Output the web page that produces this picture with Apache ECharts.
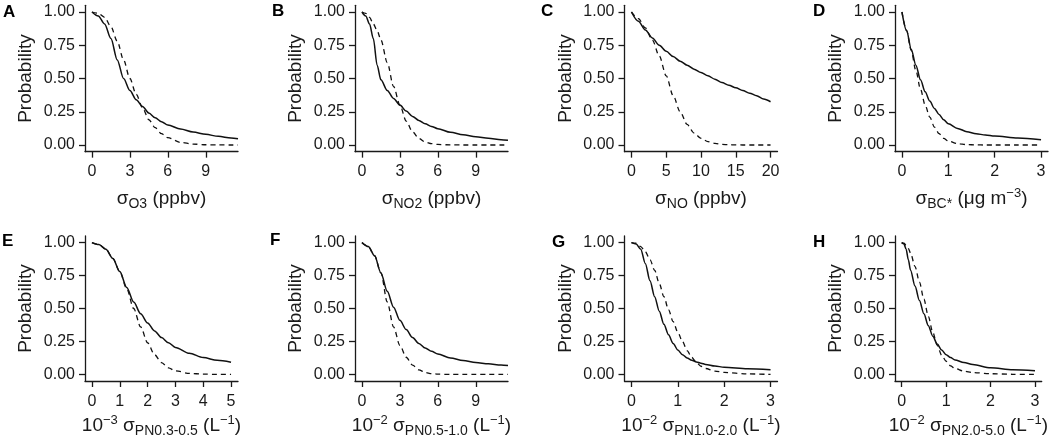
<!DOCTYPE html>
<html><head><meta charset="utf-8">
<script src="https://cdn.jsdelivr.net/npm/echarts@6/dist/echarts.min.js"></script>
<style>html,body{margin:0;padding:0;background:#fff}#c{width:1050px;height:439px}</style>
</head><body><div id="c"></div>
<script>
// ---------- data ----------
const yTicks = [0, 0.25, 0.5, 0.75, 1];

const A_x     = [0,0.5,1,1.5,2,2.5,3,3.5,4,4.5,5,5.5,6,7,8,9,10,11,11.55];
const A_solid = [1.0,0.97,0.91,0.8,0.64,0.5,0.41,0.34,0.29,0.24,0.205,0.175,0.15,0.12,0.097,0.08,0.065,0.053,0.047];
const A_dash  = [1.0,0.99,0.96,0.89,0.78,0.64,0.5,0.38,0.28,0.19,0.13,0.085,0.055,0.02,0.007,0.002,0.0005,0,0];
const A_ticks = [0,3,6,9];

const B_x     = [0,0.3,0.6,0.9,1.2,1.5,2,2.5,3,3.5,4,4.5,5,5.5,6,7,8,9,10,11,11.55];
const B_solid = [1.0,0.97,0.91,0.8,0.6,0.49,0.41,0.35,0.3,0.255,0.215,0.185,0.16,0.14,0.123,0.096,0.077,0.062,0.05,0.04,0.036];
const B_dash  = [1.0,0.99,0.96,0.91,0.86,0.79,0.62,0.44,0.3,0.18,0.1,0.05,0.022,0.01,0.004,0.001,0,0,0,0,0];
const B_ticks = [0,3,6,9];

const C_x     = [0,1,2,3,4,5,6,7,8,9,10,11,12,13,14,15,16,17,18,19,20];
const C_solid = [1.0,0.93,0.865,0.805,0.75,0.705,0.665,0.63,0.6,0.57,0.545,0.52,0.495,0.47,0.45,0.43,0.41,0.39,0.37,0.345,0.325];
const C_dash  = [1.0,0.95,0.88,0.79,0.67,0.52,0.37,0.25,0.155,0.09,0.05,0.025,0.012,0.005,0.002,0.001,0,0,0,0,0];
const C_ticks = [0,5,10,15,20];

const D_x     = [0,0.1,0.2,0.3,0.4,0.5,0.6,0.7,0.8,0.9,1.0,1.2,1.4,1.6,1.8,2.0,2.5,3.0];
const D_solid = [1.0,0.86,0.72,0.6,0.49,0.4,0.33,0.275,0.23,0.19,0.16,0.125,0.1,0.085,0.075,0.067,0.052,0.04];
const D_dash  = [1.0,0.86,0.71,0.56,0.42,0.3,0.21,0.135,0.085,0.05,0.03,0.01,0.003,0.001,0,0,0,0];
const D_ticks = [0,1,2,3];

const E_x     = [0,0.25,0.5,0.75,1.0,1.25,1.5,1.75,2.0,2.25,2.5,2.75,3.0,3.5,4.0,4.5,5.0];
const E_solid = [1.0,0.985,0.95,0.88,0.78,0.66,0.55,0.46,0.39,0.33,0.28,0.24,0.205,0.16,0.128,0.107,0.093];
const E_dash  = [1.0,0.985,0.95,0.88,0.78,0.65,0.5,0.36,0.24,0.15,0.09,0.05,0.027,0.008,0.002,0.0005,0];
const E_ticks = [0,1,2,3,4,5];

const F_x     = [0,0.5,1,1.5,2,2.5,3,3.5,4,4.5,5,5.5,6,7,8,9,10,11,11.55];
const F_solid = [1.0,0.97,0.9,0.77,0.63,0.51,0.41,0.34,0.28,0.235,0.2,0.175,0.155,0.125,0.105,0.09,0.08,0.072,0.068];
const F_dash  = [1.0,0.97,0.9,0.77,0.55,0.36,0.22,0.13,0.07,0.035,0.015,0.006,0.002,0,0,0,0,0,0];
const F_ticks = [0,3,6,9];

const G_x     = [0,0.1,0.2,0.3,0.4,0.5,0.6,0.7,0.8,0.9,1.0,1.1,1.2,1.3,1.4,1.5,1.6,1.8,2.0,2.5,3.0];
const G_solid = [1.0,0.99,0.95,0.84,0.71,0.59,0.48,0.38,0.3,0.235,0.185,0.15,0.125,0.108,0.095,0.085,0.076,0.063,0.055,0.043,0.035];
const G_dash  = [1.0,0.995,0.97,0.93,0.87,0.79,0.69,0.59,0.49,0.4,0.32,0.25,0.18,0.13,0.09,0.062,0.045,0.025,0.015,0.004,0];
const G_ticks = [0,1,2,3];

const H_x     = [0,0.05,0.1,0.15,0.2,0.3,0.4,0.5,0.6,0.7,0.8,0.9,1.0,1.1,1.2,1.4,1.6,2.0,2.5,3.0];
const H_solid = [1.0,0.99,0.95,0.87,0.79,0.67,0.56,0.46,0.37,0.29,0.23,0.185,0.15,0.128,0.11,0.09,0.075,0.05,0.035,0.027];
const H_dash  = [1.0,0.995,0.98,0.955,0.92,0.82,0.7,0.57,0.44,0.32,0.22,0.145,0.1,0.065,0.045,0.025,0.014,0.005,0.001,0];
const H_ticks = [0,1,2,3];

const panelLetters = ['A','B','C','D','E','F','G','H'];
const xTitles = [
  '{m|σ}{s|O3}{m| (ppbv)}',
  '{m|σ}{s|NO2}{m| (ppbv)}',
  '{m|σ}{s|NO}{m| (ppbv)}',
  '{m|σ}{s|BC*}{m| (μg m}{p|−3}{m|)}',
  '{m|10}{p|−3}{m| σ}{s|PN0.3-0.5}{m| (L}{p|−1}{m|)}',
  '{m|10}{p|−2}{m| σ}{s|PN0.5-1.0}{m| (L}{p|−1}{m|)}',
  '{m|10}{p|−2}{m| σ}{s|PN1.0-2.0}{m| (L}{p|−1}{m|)}',
  '{m|10}{p|−2}{m| σ}{s|PN2.0-5.0}{m| (L}{p|−1}{m|)}'
];
const yTitle = 'Probability';

// ---------- layout ----------
const panels = [
  {x:A_x, s:A_solid, d:A_dash, t:A_ticks, r:[-0.55,11.55]},
  {x:B_x, s:B_solid, d:B_dash, t:B_ticks, r:[-0.55,11.55]},
  {x:C_x, s:C_solid, d:C_dash, t:C_ticks, r:[-1,21]},
  {x:D_x, s:D_solid, d:D_dash, t:D_ticks, r:[-0.15,3.15]},
  {x:E_x, s:E_solid, d:E_dash, t:E_ticks, r:[-0.25,5.25]},
  {x:F_x, s:F_solid, d:F_dash, t:F_ticks, r:[-0.55,11.55]},
  {x:G_x, s:G_solid, d:G_dash, t:G_ticks, r:[-0.15,3.15]},
  {x:H_x, s:H_solid, d:H_dash, t:H_ticks, r:[-0.15,3.15]}
];
const colLeft = [85, 355, 624.5, 895];
const rowTop = [5.35, 236];
const gW = 153, gH = 146.3;
const nameGapRow = [47, 45];
const labelMarginRow = [12, 13];
const letterPos = [[3,12],[272,11],[541,11],[813,11],[2,241],[270,240],[552,242],[813,242]];

const FONT = '"Liberation Sans", Arial, Helvetica, sans-serif';
const INK = '#1a1a1a';

const grids = [], xAxes = [], yAxes = [], series = [], graphics = [];
panels.forEach((p, i) => {
  const row = Math.floor(i / 4), col = i % 4;
  grids.push({left: colLeft[col], top: rowTop[row], width: gW, height: gH, containLabel: false});
  xAxes.push({
    gridIndex: i, type: 'value', min: p.r[0], max: p.r[1],
    axisLine: {show: true, onZero: false, lineStyle: {color: INK, width: 1.3}},
    axisTick: {show: true, length: 6, customValues: p.t, lineStyle: {color: INK, width: 1.3}},
    axisLabel: {customValues: p.t, margin: labelMarginRow[row], fontSize: 16, color: INK, fontFamily: FONT},
    splitLine: {show: false},
    name: xTitles[i], nameLocation: 'middle', nameGap: nameGapRow[row],
    nameTextStyle: {
      verticalAlign: 'middle', align: 'center', color: INK, fontFamily: FONT,
      rich: {
        m: {fontSize: 19, lineHeight: 24, color: INK, fontFamily: FONT},
        s: {fontSize: 14, lineHeight: 14, verticalAlign: 'bottom', color: INK, fontFamily: FONT},
        p: {fontSize: 13, lineHeight: 13, verticalAlign: 'top', color: INK, fontFamily: FONT}
      }
    }
  });
  yAxes.push({
    gridIndex: i, type: 'value', min: -0.05, max: 1.05,
    axisLine: {show: true, onZero: false, lineStyle: {color: INK, width: 1.3}},
    axisTick: {show: true, length: 6, customValues: yTicks, lineStyle: {color: INK, width: 1.3}},
    axisLabel: {customValues: yTicks, margin: 10, fontSize: 16, color: INK, fontFamily: FONT,
      formatter: v => v.toFixed(2)},
    splitLine: {show: false},
    name: yTitle, nameLocation: 'middle', nameGap: 59, nameRotate: 90,
    nameTextStyle: {fontSize: 19, color: INK, fontFamily: FONT, verticalAlign: 'middle', align: 'center'}
  });
  series.push({
    type: 'line', xAxisIndex: i, yAxisIndex: i, showSymbol: false, symbol: 'none',
    smooth: 0.3, smoothMonotone: 'x', clip: true,
    lineStyle: {color: '#111', width: 1.5, type: 'solid'},
    data: p.x.map((v, k) => [v, p.s[k]])
  });
  series.push({
    type: 'line', xAxisIndex: i, yAxisIndex: i, showSymbol: false, symbol: 'none',
    smooth: 0.3, smoothMonotone: 'x', clip: true,
    lineStyle: {color: '#111', width: 1.3, type: [5, 4]},
    data: p.x.map((v, k) => [v, p.d[k]])
  });
  graphics.push({
    type: 'text', x: letterPos[i][0], y: letterPos[i][1],
    style: {text: panelLetters[i], font: 'bold 17px ' + FONT, fill: '#000',
      textAlign: 'left', textVerticalAlign: 'middle'}
  });
});

const chart = echarts.init(document.getElementById('c'), null, {renderer: 'canvas'});
chart.setOption({
  backgroundColor: '#fff',
  animation: false,
  grid: grids, xAxis: xAxes, yAxis: yAxes, series: series, graphic: graphics
});
</script></body></html>
